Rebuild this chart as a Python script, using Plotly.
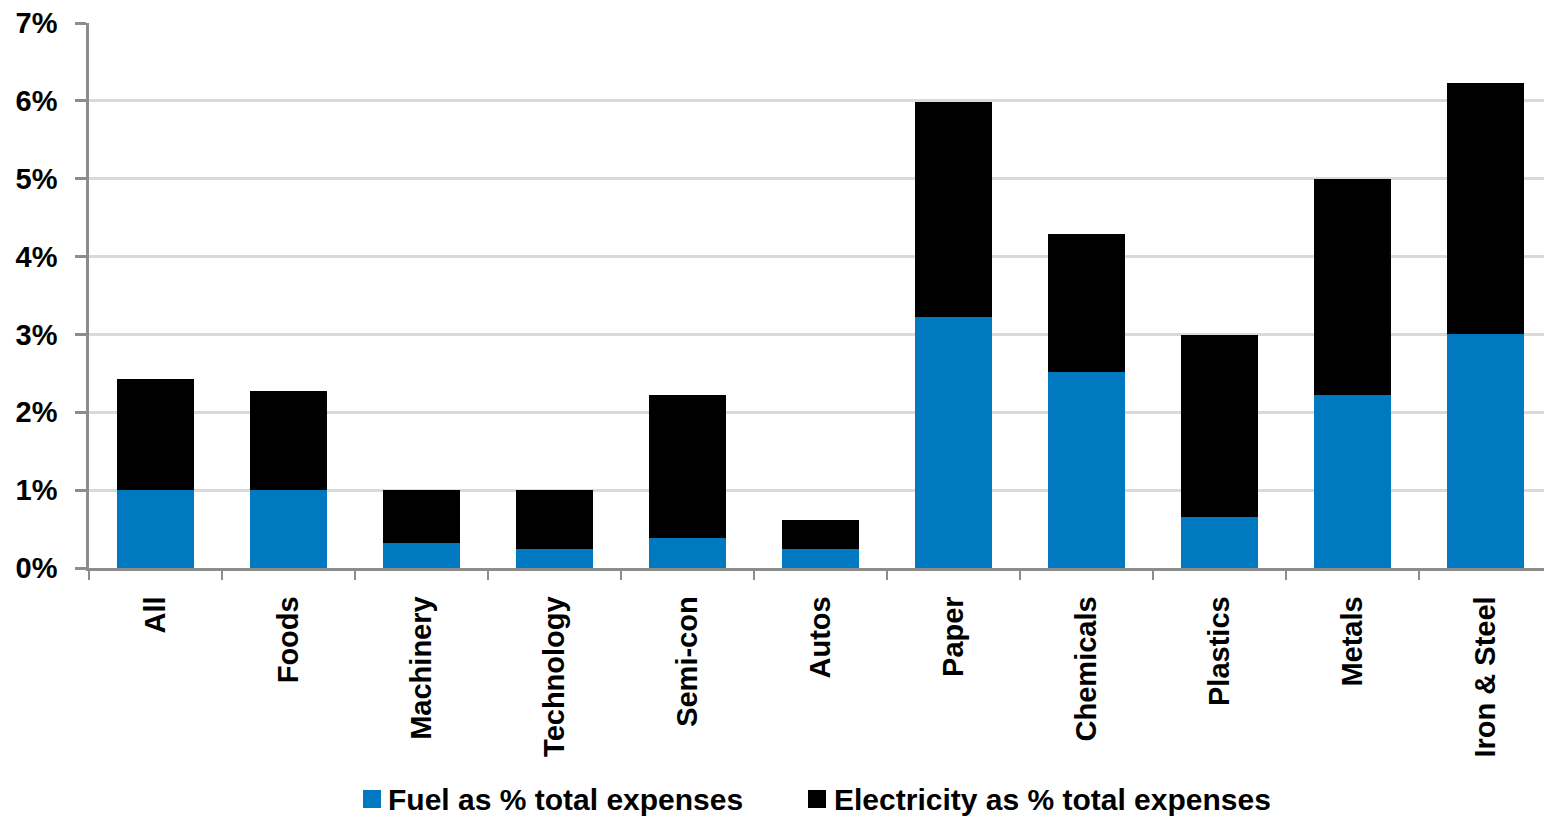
import plotly.graph_objects as go

# Sector categories and cost shares (% of total expenses)
categories = ["All", "Foods", "Machinery", "Technology", "Semi-con", "Autos",
              "Paper", "Chemicals", "Plastics", "Metals", "Iron & Steel"]
fuel_pct = [1.0, 1.0, 0.32, 0.24, 0.39, 0.24, 3.22, 2.52, 0.65, 2.22, 3.0]
total_pct = [2.43, 2.27, 1.0, 1.0, 2.22, 0.62, 5.98, 4.29, 2.99, 5.0, 6.23]
electricity_pct = [round(t - f, 2) for t, f in zip(total_pct, fuel_pct)]

fuel_name = "Fuel as % total expenses"
elec_name = "Electricity as % total expenses"
fuel_color = "#0079C1"
elec_color = "#000000"

W, H = 1544, 817
ML, MR, MT, MB = 89, 0, 23, 249
PW, PH = W - ML - MR, H - MT - MB


def px_x(x):
    return (x - ML) / PW


def px_y(y):
    return (H - MB - y) / PH


fig = go.Figure()
fig.add_trace(go.Bar(x=categories, y=fuel_pct, name=fuel_name,
                     marker=dict(color=fuel_color, line=dict(width=0)),
                     width=0.58))
fig.add_trace(go.Bar(x=categories, y=electricity_pct, name=elec_name,
                     marker=dict(color=elec_color, line=dict(width=0)),
                     width=0.58))

font_family = "Liberation Sans, Arial, sans-serif"
axis_grey = "#8c8c8c"

fig.update_layout(
    barmode="stack",
    width=W, height=H,
    margin=dict(l=ML, r=MR, t=MT, b=MB, pad=0),
    plot_bgcolor="white", paper_bgcolor="white",
    showlegend=False,
    font=dict(family=font_family, color="black"),
)

fig.update_xaxes(
    range=[-0.5, 10.44],
    showline=True, linecolor=axis_grey, linewidth=2.5,
    ticks="outside", tickson="boundaries", ticklen=9, tickwidth=2,
    tickcolor=axis_grey,
    tickangle=-90,
    tickfont=dict(family=font_family, size=29, weight=700, color="black"),
    ticklabelstandoff=14,
    showgrid=False,
)
fig.update_yaxes(
    range=[0, 7], dtick=1, ticksuffix="%",
    showline=True, linecolor=axis_grey, linewidth=2.5,
    ticks="outside", ticklen=11, tickwidth=2.5, tickcolor=axis_grey,
    tickfont=dict(family=font_family, size=29, weight=700, color="black"),
    ticklabelstandoff=12,
    showgrid=True, gridcolor="#d9d9d9", gridwidth=2.5,
    zeroline=False,
)

# Legend drawn below the axis: colour swatch plus label for each series
legend_items = [
    (fuel_name, fuel_color, 363, 386),
    (elec_name, elec_color, 808, 832),
]
for label, color, sx, tx in legend_items:
    fig.add_shape(type="rect", xref="paper", yref="paper",
                  x0=px_x(sx), x1=px_x(sx + 18),
                  y0=px_y(808), y1=px_y(790),
                  fillcolor=color, line=dict(width=0))
    fig.add_annotation(text=label, xref="paper", yref="paper",
                       x=px_x(tx), y=px_y(799), xanchor="left", yanchor="middle",
                       showarrow=False,
                       font=dict(family=font_family, size=30, weight=700,
                                 color="black"))

fig.write_html("out.html")
